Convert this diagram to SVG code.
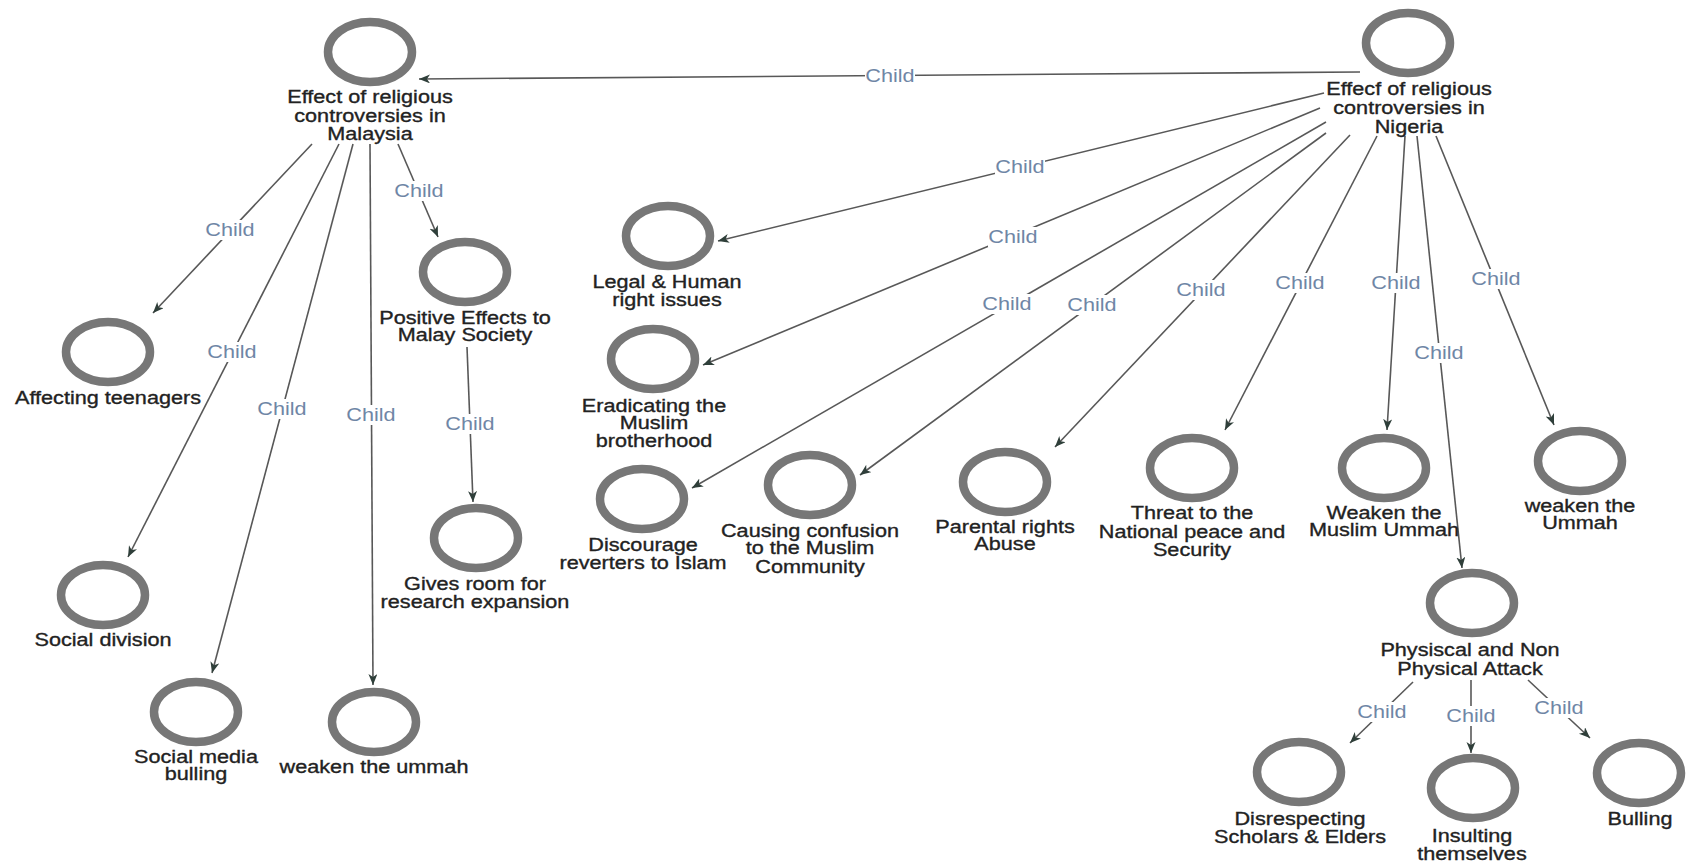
<svg xmlns="http://www.w3.org/2000/svg" width="1686" height="866" viewBox="0 0 1686 866">
  <style>
    .ring { fill: none; stroke: #777; stroke-width: 8.5; }
    .t { font-family: "Liberation Sans", Arial, sans-serif; font-size: 18.5px; fill: #222; stroke: #222; stroke-width: 0.35; text-anchor: middle; }
    .edge { stroke: #585858; stroke-width: 1.6; fill: none; marker-end: url(#arrow); }
    .lblbg { fill: #fff; }
    .lbl { font-family: "Liberation Sans", Arial, sans-serif; font-size: 18.5px; fill: #6f86a6; text-anchor: middle; }
  </style>
  <defs>
    <marker id="arrow" markerUnits="userSpaceOnUse" markerWidth="12" markerHeight="10" refX="11" refY="4.5" orient="auto">
      <path d="M0,0 L11,4.5 L0,9 L3,4.5 Z" fill="#2f3f3a"/>
    </marker>
  </defs>
  <rect width="1686" height="866" fill="#fff"/>

  <!-- connectors -->
  <g id="connectors">
    <line class="edge" x1="1360" y1="72" x2="419" y2="79"/>
    <line class="edge" x1="312" y1="144" x2="153" y2="313"/>
    <line class="edge" x1="339" y1="144" x2="128" y2="557"/>
    <line class="edge" x1="353" y1="144" x2="212" y2="673"/>
    <line class="edge" x1="370" y1="144" x2="373" y2="685"/>
    <line class="edge" x1="398" y1="144" x2="438" y2="237"/>
    <line class="edge" x1="467" y1="347" x2="473" y2="502"/>
    <line class="edge" x1="1324" y1="93" x2="718" y2="241"/>
    <line class="edge" x1="1320" y1="108" x2="703" y2="365"/>
    <line class="edge" x1="1326" y1="122" x2="692" y2="488"/>
    <line class="edge" x1="1326" y1="133" x2="860" y2="475"/>
    <line class="edge" x1="1350" y1="135" x2="1055" y2="447"/>
    <line class="edge" x1="1377" y1="136" x2="1225" y2="430"/>
    <line class="edge" x1="1405" y1="136" x2="1387" y2="430"/>
    <line class="edge" x1="1417" y1="136" x2="1462" y2="568"/>
    <line class="edge" x1="1436" y1="136" x2="1554" y2="425"/>
    <line class="edge" x1="1413" y1="682" x2="1350" y2="743"/>
    <line class="edge" x1="1471" y1="680" x2="1471" y2="753"/>
    <line class="edge" x1="1528" y1="680" x2="1590" y2="738"/>

    <!-- edge labels -->
    <g id="edge-labels">
      <rect class="lblbg" x="865" y="66" width="50" height="20"/><text class="lbl" transform="translate(890 82) scale(1.17 1)">Child</text>
      <rect class="lblbg" x="205" y="220" width="50" height="20"/><text class="lbl" transform="translate(230 236) scale(1.17 1)">Child</text>
      <rect class="lblbg" x="207" y="342" width="50" height="20"/><text class="lbl" transform="translate(232 358) scale(1.17 1)">Child</text>
      <rect class="lblbg" x="257" y="399" width="50" height="20"/><text class="lbl" transform="translate(282 415) scale(1.17 1)">Child</text>
      <rect class="lblbg" x="346" y="405" width="50" height="20"/><text class="lbl" transform="translate(371 421) scale(1.17 1)">Child</text>
      <rect class="lblbg" x="394" y="181" width="50" height="20"/><text class="lbl" transform="translate(419 197) scale(1.17 1)">Child</text>
      <rect class="lblbg" x="445" y="414" width="50" height="20"/><text class="lbl" transform="translate(470 430) scale(1.17 1)">Child</text>
      <rect class="lblbg" x="995" y="157" width="50" height="20"/><text class="lbl" transform="translate(1020 173) scale(1.17 1)">Child</text>
      <rect class="lblbg" x="988" y="227" width="50" height="20"/><text class="lbl" transform="translate(1013 243) scale(1.17 1)">Child</text>
      <rect class="lblbg" x="982" y="294" width="50" height="20"/><text class="lbl" transform="translate(1007 310) scale(1.17 1)">Child</text>
      <rect class="lblbg" x="1067" y="295" width="50" height="20"/><text class="lbl" transform="translate(1092 311) scale(1.17 1)">Child</text>
      <rect class="lblbg" x="1176" y="280" width="50" height="20"/><text class="lbl" transform="translate(1201 296) scale(1.17 1)">Child</text>
      <rect class="lblbg" x="1275" y="273" width="50" height="20"/><text class="lbl" transform="translate(1300 289) scale(1.17 1)">Child</text>
      <rect class="lblbg" x="1371" y="273" width="50" height="20"/><text class="lbl" transform="translate(1396 289) scale(1.17 1)">Child</text>
      <rect class="lblbg" x="1414" y="343" width="50" height="20"/><text class="lbl" transform="translate(1439 359) scale(1.17 1)">Child</text>
      <rect class="lblbg" x="1471" y="269" width="50" height="20"/><text class="lbl" transform="translate(1496 285) scale(1.17 1)">Child</text>
      <rect class="lblbg" x="1357" y="702" width="50" height="20"/><text class="lbl" transform="translate(1382 718) scale(1.17 1)">Child</text>
      <rect class="lblbg" x="1446" y="706" width="50" height="20"/><text class="lbl" transform="translate(1471 722) scale(1.17 1)">Child</text>
      <rect class="lblbg" x="1534" y="698" width="50" height="20"/><text class="lbl" transform="translate(1559 714) scale(1.17 1)">Child</text>
    </g>
  </g>

  <!-- Malaysia branch -->
  <g id="malaysia">
    <ellipse class="ring" cx="370" cy="52" rx="42" ry="30"/>
    <text class="t" transform="translate(370 103) scale(1.17 1)">Effect of religious</text>
    <text class="t" transform="translate(370 122) scale(1.17 1)">controversies in</text>
    <text class="t" transform="translate(370 140) scale(1.17 1)">Malaysia</text>
  </g>
  <g id="affecting-teenagers">
    <ellipse class="ring" cx="108" cy="352" rx="42" ry="30"/>
    <text class="t" transform="translate(108 404) scale(1.17 1)">Affecting teenagers</text>
  </g>
  <g id="social-division">
    <ellipse class="ring" cx="103" cy="595" rx="42" ry="30"/>
    <text class="t" transform="translate(103 646) scale(1.17 1)">Social division</text>
  </g>
  <g id="social-media-bulling">
    <ellipse class="ring" cx="196" cy="712" rx="42" ry="30"/>
    <text class="t" transform="translate(196 763) scale(1.17 1)">Social media</text>
    <text class="t" transform="translate(196 780) scale(1.17 1)">bulling</text>
  </g>
  <g id="weaken-the-ummah-my">
    <ellipse class="ring" cx="374" cy="722" rx="42" ry="30"/>
    <text class="t" transform="translate(374 773) scale(1.17 1)">weaken the ummah</text>
  </g>
  <g id="positive-effects">
    <ellipse class="ring" cx="465" cy="272" rx="42" ry="30"/>
    <text class="t" transform="translate(465 324) scale(1.17 1)">Positive Effects to</text>
    <text class="t" transform="translate(465 341) scale(1.17 1)">Malay Society</text>
  </g>
  <g id="gives-room">
    <ellipse class="ring" cx="476" cy="538" rx="42" ry="30"/>
    <text class="t" transform="translate(475 590) scale(1.17 1)">Gives room for</text>
    <text class="t" transform="translate(475 608) scale(1.17 1)">research expansion</text>
  </g>

  <!-- Nigeria branch -->
  <g id="nigeria">
    <ellipse class="ring" cx="1408" cy="43" rx="42" ry="30"/>
    <text class="t" transform="translate(1409 95) scale(1.17 1)">Effecf of religious</text>
    <text class="t" transform="translate(1409 114) scale(1.17 1)">controversies in</text>
    <text class="t" transform="translate(1409 133) scale(1.17 1)">Nigeria</text>
  </g>
  <g id="legal-human-rights">
    <ellipse class="ring" cx="668" cy="236" rx="42" ry="30"/>
    <text class="t" transform="translate(667 288) scale(1.17 1)">Legal &amp; Human</text>
    <text class="t" transform="translate(667 306) scale(1.17 1)">right issues</text>
  </g>
  <g id="eradicating">
    <ellipse class="ring" cx="653" cy="359" rx="42" ry="30"/>
    <text class="t" transform="translate(654 412) scale(1.17 1)">Eradicating the</text>
    <text class="t" transform="translate(654 429) scale(1.17 1)">Muslim</text>
    <text class="t" transform="translate(654 447) scale(1.17 1)">brotherhood</text>
  </g>
  <g id="discourage">
    <ellipse class="ring" cx="642" cy="499" rx="42" ry="30"/>
    <text class="t" transform="translate(643 551) scale(1.17 1)">Discourage</text>
    <text class="t" transform="translate(643 569) scale(1.17 1)">reverters to Islam</text>
  </g>
  <g id="causing-confusion">
    <ellipse class="ring" cx="810" cy="485" rx="42" ry="30"/>
    <text class="t" transform="translate(810 537) scale(1.17 1)">Causing confusion</text>
    <text class="t" transform="translate(810 554) scale(1.17 1)">to the Muslim</text>
    <text class="t" transform="translate(810 573) scale(1.17 1)">Community</text>
  </g>
  <g id="parental-rights">
    <ellipse class="ring" cx="1005" cy="482" rx="42" ry="30"/>
    <text class="t" transform="translate(1005 533) scale(1.17 1)">Parental rights</text>
    <text class="t" transform="translate(1005 550) scale(1.17 1)">Abuse</text>
  </g>
  <g id="threat-peace">
    <ellipse class="ring" cx="1192" cy="468" rx="42" ry="30"/>
    <text class="t" transform="translate(1192 519) scale(1.17 1)">Threat to the</text>
    <text class="t" transform="translate(1192 538) scale(1.17 1)">National peace and</text>
    <text class="t" transform="translate(1192 556) scale(1.17 1)">Security</text>
  </g>
  <g id="weaken-muslim-ummah">
    <ellipse class="ring" cx="1384" cy="468" rx="42" ry="30"/>
    <text class="t" transform="translate(1384 519) scale(1.17 1)">Weaken the</text>
    <text class="t" transform="translate(1384 536) scale(1.17 1)">Muslim Ummah</text>
  </g>
  <g id="weaken-the-ummah-ng">
    <ellipse class="ring" cx="1580" cy="461" rx="42" ry="30"/>
    <text class="t" transform="translate(1580 512) scale(1.17 1)">weaken the</text>
    <text class="t" transform="translate(1580 529) scale(1.17 1)">Ummah</text>
  </g>
  <g id="physical-attack">
    <ellipse class="ring" cx="1472" cy="603" rx="42" ry="30"/>
    <text class="t" transform="translate(1470 656) scale(1.17 1)">Physiscal and Non</text>
    <text class="t" transform="translate(1470 675) scale(1.17 1)">Physical Attack</text>
  </g>
  <g id="disrespecting">
    <ellipse class="ring" cx="1299" cy="772" rx="42" ry="30"/>
    <text class="t" transform="translate(1300 825) scale(1.17 1)">Disrespecting</text>
    <text class="t" transform="translate(1300 843) scale(1.17 1)">Scholars &amp; Elders</text>
  </g>
  <g id="insulting">
    <ellipse class="ring" cx="1473" cy="788" rx="42" ry="30"/>
    <text class="t" transform="translate(1472 842) scale(1.17 1)">Insulting</text>
    <text class="t" transform="translate(1472 860) scale(1.17 1)">themselves</text>
  </g>
  <g id="bulling">
    <ellipse class="ring" cx="1639" cy="773" rx="42" ry="30"/>
    <text class="t" transform="translate(1640 825) scale(1.17 1)">Bulling</text>
  </g>
</svg>
